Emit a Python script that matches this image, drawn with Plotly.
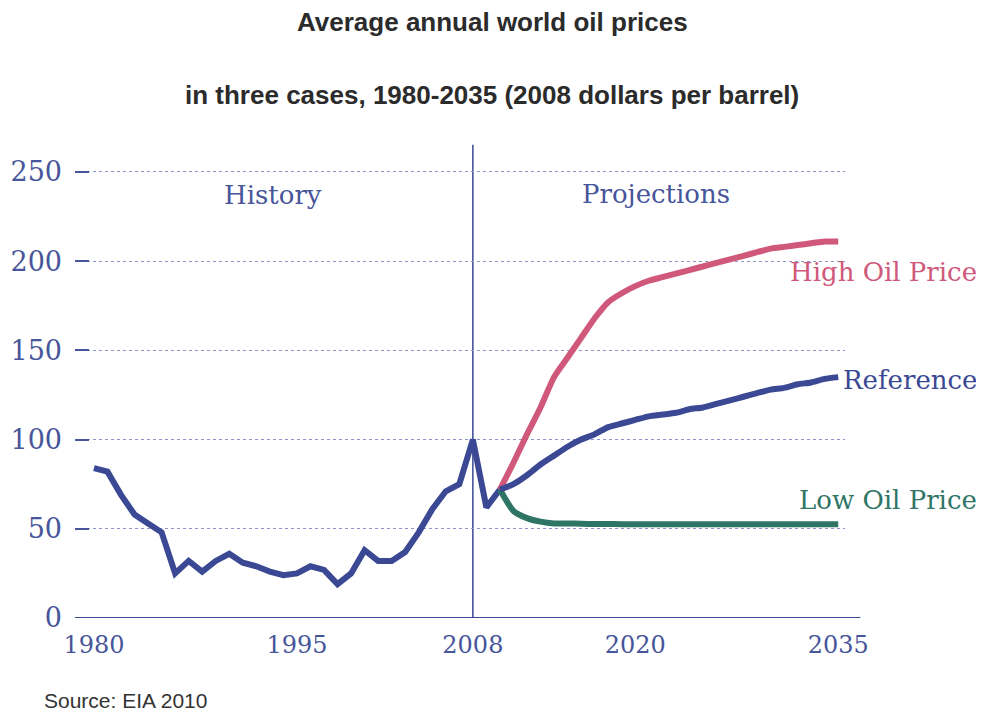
import plotly.graph_objects as go

# History 1980-2010
HIST_YEARS = list(range(1980, 2011))
HIST_PRICE = [84, 82, 69, 58, 53, 48, 25, 32, 26, 32, 36, 31, 29, 26, 24, 25,
              29, 27, 19, 25, 38, 32, 32, 37, 48, 61, 71, 75, 100, 62, 72]

# Projections 2010-2035
PROJ_YEARS = list(range(2010, 2036))
HIGH_PRICE = [72, 87, 103, 118, 135, 146, 157, 168, 177, 182, 186, 189, 191,
              193, 195, 197, 199, 201, 203, 205, 207, 208, 209, 210, 211, 211]
REF_PRICE = [72, 75, 80, 86, 91, 96, 100, 103, 107, 109, 111, 113, 114, 115,
             117, 118, 120, 122, 124, 126, 128, 129, 131, 132, 134, 135]
LOW_PRICE = [72, 60, 56, 54, 53, 53, 52.8, 52.7, 52.7, 52.6, 52.6, 52.6, 52.6,
             52.6, 52.6, 52.6, 52.6, 52.6, 52.6, 52.6, 52.6, 52.6, 52.6, 52.6, 52.6, 52.6]

X_TICKS = [1980, 1995, 2008, 2020, 2035]
Y_TICKS = [0, 50, 100, 150, 200, 250]

NAVY = "#3b4894"
RED = "#d0587a"
GREEN = "#2f7566"
TICK_COL = "#47559a"
SERIF = "DejaVu Serif"

# the page body has an 8px margin, so the figure is 8px smaller than the window
W, H = 976, 706
M_L, M_R, M_T, M_B = 67, 139, 155, 96
PLOT_W = W - M_L - M_R
PLOT_H = H - M_T - M_B

fig = go.Figure()

fig.add_trace(go.Scatter(x=HIST_YEARS, y=HIST_PRICE, mode="lines",
                         line=dict(color=NAVY, width=6), cliponaxis=False))
fig.add_trace(go.Scatter(x=PROJ_YEARS, y=HIGH_PRICE, mode="lines",
                         line=dict(color=RED, width=6, shape="spline", smoothing=0.6)))
fig.add_trace(go.Scatter(x=PROJ_YEARS, y=LOW_PRICE, mode="lines",
                         line=dict(color=GREEN, width=6, shape="spline", smoothing=0.6)))
fig.add_trace(go.Scatter(x=PROJ_YEARS, y=REF_PRICE, mode="lines",
                         line=dict(color=NAVY, width=6, shape="spline", smoothing=0.6)))

# axis line at zero and the 2008 divider
fig.add_shape(type="line", xref="paper", yref="y", x0=0, x1=1.02, y0=0, y1=0,
              line=dict(color=NAVY, width=2))
fig.add_shape(type="line", xref="x", yref="paper", x0=2008, x1=2008, y0=0, y1=1.04,
              line=dict(color=NAVY, width=1.5), layer="below")


def px_ann(text, xpx, ypx, color, anchor, size=26, family=SERIF):
    # xpx / ypx are positions in window pixels
    fig.add_annotation(text=text, xref="paper", yref="paper",
                       x=(xpx - 8 - M_L) / PLOT_W, y=(H - (ypx - 8) - M_B) / PLOT_H,
                       xanchor=anchor, yanchor="middle", showarrow=False,
                       font=dict(size=size, family=family, color=color))


px_ann("<b>Average annual world oil prices</b>", 492, 22, "#2b2b2b", "center",
       size=26, family="Liberation Sans")
px_ann("<b>in three cases, 1980-2035 (2008 dollars per barrel)</b>", 492, 95, "#2b2b2b",
       "center", size=26, family="Liberation Sans")
px_ann("History", 273, 195, TICK_COL, "center")
px_ann("Projections", 656, 194, TICK_COL, "center")
px_ann("High Oil Price", 979, 272, RED, "right")
px_ann("Reference", 979, 380, NAVY, "right")
px_ann("Low Oil Price", 979, 500, GREEN, "right")
px_ann("Source: EIA 2010", 42, 700, "#333333", "left", size=21, family="Liberation Sans")

fig.update_layout(
    width=W, height=H,
    margin=dict(l=M_L, r=M_R, t=M_T, b=M_B),
    plot_bgcolor="white", paper_bgcolor="white",
    showlegend=False,
    xaxis=dict(
        range=[1978.6, 2035.5], automargin=False,
        tickmode="array", tickvals=X_TICKS,
        showgrid=False, zeroline=False, showline=False,
        ticks="", ticklabelstandoff=10,
        tickfont=dict(family=SERIF, size=24, color=TICK_COL),
    ),
    yaxis=dict(
        range=[0, 255], automargin=False,
        tickmode="array", tickvals=Y_TICKS,
        showgrid=True, gridcolor="#8d96c6", gridwidth=1, griddash="dot",
        zeroline=False, showline=False,
        ticks="inside", ticklen=14, tickwidth=2, tickcolor=TICK_COL,
        ticklabelstandoff=12,
        tickfont=dict(family=SERIF, size=27, color=TICK_COL),
    ),
)

fig.write_html("out.html")
